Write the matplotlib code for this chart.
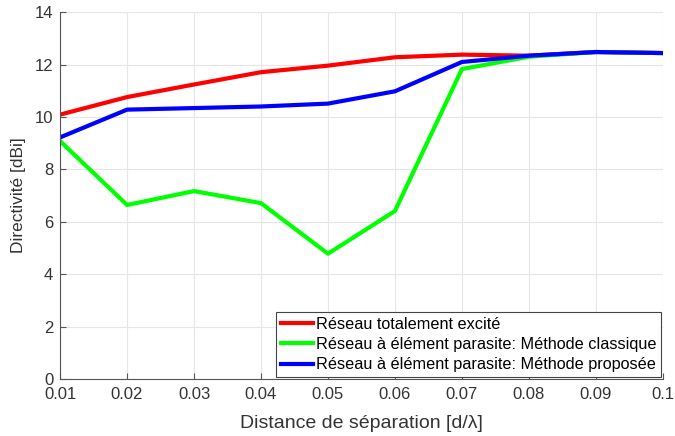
import numpy as np
import matplotlib
matplotlib.use('Agg')
import matplotlib.pyplot as plt

# Data
distance = [0.01, 0.02, 0.03, 0.04, 0.05, 0.06, 0.07, 0.08, 0.09, 0.10]
totalement_excite = [10.09, 10.76, 11.24, 11.71, 11.96, 12.28, 12.38, 12.34, 12.48, 12.44]
methode_classique = [9.08, 6.64, 7.17, 6.71, 4.78, 6.41, 11.83, 12.30, 12.48, 12.44]
methode_proposee = [9.22, 10.28, 10.34, 10.40, 10.51, 10.98, 12.10, 12.34, 12.48, 12.44]

labels = ['Réseau totalement excité',
          'Réseau à élément parasite: Méthode classique',
          'Réseau à élément parasite: Méthode proposée']

plt.rcParams['font.family'] = ['Liberation Sans', 'DejaVu Sans']

fig = plt.figure(figsize=(6.75, 4.36), dpi=100)
ax = fig.add_axes([0.089, 0.131, 0.893, 0.841])

ax.plot(distance, totalement_excite, color=(1, 0, 0), lw=3, label=labels[0])
ax.plot(distance, methode_classique, color=(0, 1, 0), lw=3, label=labels[1])
ax.plot(distance, methode_proposee, color=(0, 0, 1), lw=3, label=labels[2])

ax.set_xlim(0.01, 0.1)
ax.set_ylim(0, 14)
ax.set_xticks(np.arange(0.01, 0.1001, 0.01))
ax.set_xticklabels(['0.01', '0.02', '0.03', '0.04', '0.05', '0.06', '0.07', '0.08', '0.09', '0.1'])
ax.set_yticks(range(0, 15, 2))

ax.grid(True, color='#e6e6e6', linewidth=0.8)
ax.set_axisbelow(True)
for side in ['top', 'right']:
    ax.spines[side].set_visible(False)
for side in ['left', 'bottom']:
    ax.spines[side].set_color('#555555')
    ax.spines[side].set_linewidth(0.8)
ax.tick_params(direction='in', length=4, colors='#555555', labelcolor='#333333', labelsize=12)
ax.tick_params(axis='x', pad=6)
ax.tick_params(axis='y', pad=5)

ax.set_xlabel('Distance de séparation [d/λ]', fontsize=14, color='#333333', labelpad=9)
ax.set_ylabel('Directivité [dBi]', fontsize=12.5, color='#333333', labelpad=6)

leg = ax.legend(loc='lower right', fontsize=11.7, fancybox=False, framealpha=1,
                edgecolor='#444444', borderaxespad=0.1, borderpad=0.3,
                handlelength=2.0, handletextpad=0.15, labelspacing=0.32)
leg.get_frame().set_linewidth(0.8)

fig.savefig('out.png', dpi=100)
